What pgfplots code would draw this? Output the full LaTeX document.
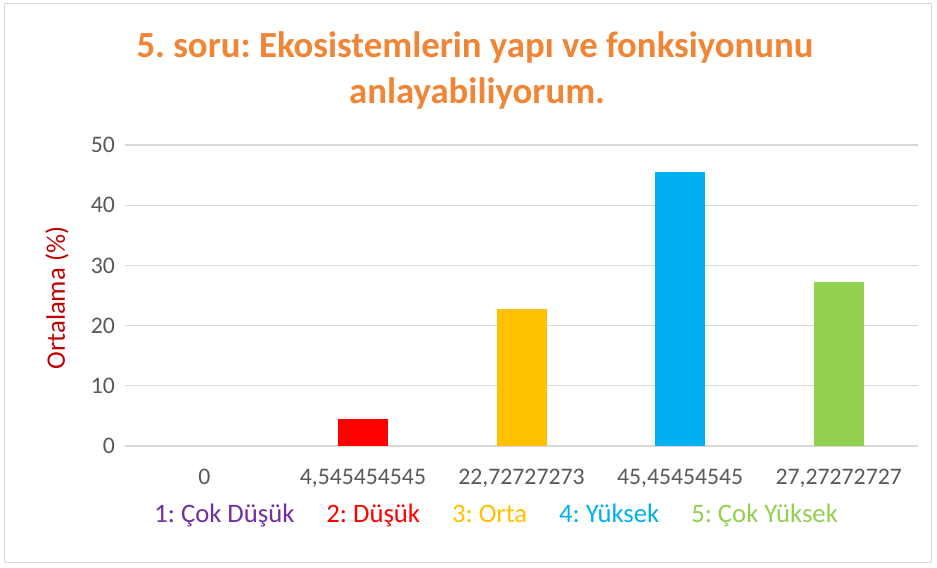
\documentclass[border=0pt]{standalone}
\usepackage{pgfplots}
\pgfplotsset{compat=1.18}
\usepackage{fontspec}
\setmainfont{Carlito}
\frenchspacing
\definecolor{cpurple}{HTML}{7030A0}
\definecolor{cred}{HTML}{FF0000}
\definecolor{corange}{HTML}{FFC000}
\definecolor{cblue}{HTML}{00B0F0}
\definecolor{cgreen}{HTML}{92D050}
\definecolor{ctitle}{HTML}{F08536}
\definecolor{cylab}{HTML}{C00000}
\definecolor{ctick}{HTML}{595959}
\definecolor{cgrid}{HTML}{D9D9D9}
\begin{document}
\begin{tikzpicture}[x=0.75pt,y=0.75pt]
\fill[white] (0,0) rectangle (937,567);
\draw[cgrid, line width=0.75pt] (4,5) rectangle (931,563);
\begin{axis}[
  at={(93.75pt,90.75pt)}, anchor=south west,
  scale only axis, width=594.75pt, height=225.75pt,
  xmin=-0.5, xmax=4.5, ymin=0, ymax=50,
  ytick={0,10,...,50},
  xtick={0,1,2,3,4},
  xticklabels={0,{4,545454545},{22,72727273},{45,45454545},{27,27272727}},
  axis line style={draw=none},
  major tick length=0pt,
  ymajorgrids, grid style={cgrid, line width=0.9pt},
  tick label style={font=\fontsize{17.8}{20}\selectfont, text=ctick},
  /pgf/number format/assume math mode=true,
  yticklabel style={xshift=-4pt},
  xticklabel style={yshift=-14pt},
  ybar, bar width=37.5pt, bar shift=0pt,
  legend style={at={(0.468,-0.219)}, anchor=center, draw=none, fill=none,
    font=\fontsize{20}{24}\selectfont, legend columns=5,
    /tikz/every even column/.append style={column sep=20pt}},
  legend image code/.code={},
  clip=false,
]
\addplot[fill=none, draw=none] coordinates {(0,0)};
\addlegendentry{\strut\textcolor{cpurple}{1: Çok Düşük}}
\addplot[fill=cred, draw=none] coordinates {(1,4.545454545)};
\addlegendentry{\strut\textcolor{cred}{2: Düşük}}
\addplot[fill=corange, draw=none] coordinates {(2,22.72727273)};
\addlegendentry{\strut\textcolor{corange}{3: Orta}}
\addplot[fill=cblue, draw=none] coordinates {(3,45.45454545)};
\addlegendentry{\strut\textcolor{cblue}{4: Yüksek}}
\addplot[fill=cgreen, draw=none] coordinates {(4,27.27272727)};
\addlegendentry{\strut\textcolor{cgreen}{5: Çok Yüksek}}
\end{axis}
\node[font=\bfseries\fontsize{27.6}{32}\selectfont, text=ctitle] at (475,520) {5. soru: Ekosistemlerin yapı ve fonksiyonunu};
\node[font=\bfseries\fontsize{27.6}{32}\selectfont, text=ctitle] at (477,474) {anlayabiliyorum.};
\node[font=\fontsize{20}{24}\selectfont, text=cylab, rotate=90] at (57,269) {Ortalama (\%)};
\end{tikzpicture}
\end{document}
